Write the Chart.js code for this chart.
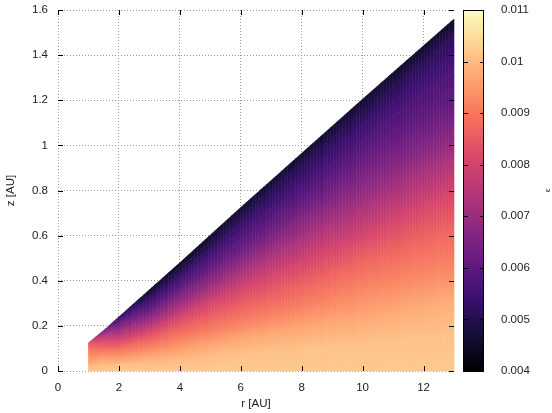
<!DOCTYPE html>
<html>
<head>
<meta charset="utf-8">
<script src="https://cdn.jsdelivr.net/npm/chart.js@4.4.1/dist/chart.umd.min.js"></script>
<style>
  html, body { margin: 0; padding: 0; background: #fff; }
  canvas { display: block; }
</style>
</head>
<body>
<canvas id="chart" width="552" height="413"></canvas>
<script>
// ── Axis ticks ────────────────────────────────────────────────────────────────
const rTicks  = [0, 2, 4, 6, 8, 10, 12];
const zTicks  = [0, 0.2, 0.4, 0.6, 0.8, 1, 1.2, 1.4, 1.6];
const cbTicks = [0.004, 0.005, 0.006, 0.007, 0.008, 0.009, 0.01, 0.011];
const cbMin = 0.004, cbMax = 0.011;

// ── Grid: radius of each column, top of the domain there, height fractions ───
const rNodes = [1, 1.5, 2, 3, 4, 6, 8, 10, 13];
const zTop   = [0.125, 0.18, 0.24, 0.36, 0.48, 0.725, 0.965, 1.205, 1.56];
const fNodes = [0, 0.1, 0.2, 0.3, 0.4, 0.5, 0.6, 0.7, 0.8, 0.85, 0.9, 0.95, 1];

// epsilon up each column, bottom to top
const eps_r1   = [0.0102, 0.0101, 0.0099, 0.0097, 0.0096, 0.0094, 0.0093, 0.0091, 0.0089, 0.0088, 0.0087, 0.0085, 0.0083];
const eps_r1_5 = [0.0102, 0.0101, 0.0099, 0.0096, 0.0093, 0.0090, 0.0086, 0.0083, 0.0079, 0.0076, 0.0072, 0.0068, 0.0063];
const eps_r2   = [0.0102, 0.0101, 0.0097, 0.0093, 0.0089, 0.0084, 0.0079, 0.0073, 0.0067, 0.0064, 0.0060, 0.0056, 0.0052];
const eps_r3   = [0.0102, 0.0100, 0.0096, 0.0091, 0.0086, 0.0079, 0.0072, 0.0065, 0.0058, 0.0055, 0.0052, 0.0048, 0.0045];
const eps_r4   = [0.0102, 0.0100, 0.0096, 0.0091, 0.0086, 0.0080, 0.0072, 0.0065, 0.0058, 0.0055, 0.0051, 0.0048, 0.0044];
const eps_r6   = [0.0102, 0.0101, 0.0097, 0.0091, 0.0086, 0.0080, 0.0073, 0.0065, 0.0059, 0.0056, 0.0053, 0.0049, 0.0046];
const eps_r8   = [0.0102, 0.0101, 0.0097, 0.0091, 0.0086, 0.0080, 0.0073, 0.0066, 0.0059, 0.0056, 0.0053, 0.0050, 0.0046];
const eps_r10  = [0.0102, 0.0101, 0.0097, 0.0092, 0.0087, 0.0080, 0.0073, 0.0066, 0.0060, 0.0057, 0.0054, 0.0050, 0.0046];
const eps_r13  = [0.0102, 0.0101, 0.0098, 0.0092, 0.0087, 0.0081, 0.0073, 0.0065, 0.0059, 0.0057, 0.0054, 0.0051, 0.0045];
const columns = [eps_r1, eps_r1_5, eps_r2, eps_r3, eps_r4, eps_r6, eps_r8, eps_r10, eps_r13];

// ── Colour map (magma) ────────────────────────────────────────────────────────
const magma = ["#000004", "#140e36", "#3b0f70", "#641a80", "#8c2981", "#b73779",
               "#de4968", "#f7705c", "#fe9f6d", "#fecf92", "#fcfdbf"];
const magmaRgb = magma.map(h => [1, 3, 5].map(i => parseInt(h.substr(i, 2), 16)));

function colorOf(v) {
  let t = (v - cbMin) / (cbMax - cbMin);
  t = Math.min(1, Math.max(0, t)) * (magmaRgb.length - 1);
  const i = Math.min(Math.floor(t), magmaRgb.length - 2), u = t - i;
  const a = magmaRgb[i], b = magmaRgb[i + 1];
  return `rgb(${a.map((c, k) => Math.round(c + (b[k] - c) * u)).join(",")})`;
}

const FONT = "'Liberation Sans', Arial, sans-serif";
const TXT  = "#222";
const lerp = (a, b, u) => a + (b - a) * u;

// ── Field: each grid cell shaded like pm3d interpolate ───────────────────────
const fieldPlugin = {
  id: "field",
  beforeDatasetsDraw(chart) {
    const { ctx, scales: { x, y } } = chart;
    ctx.save();
    for (let i = 0; i < rNodes.length - 1; i++) {
      const wPx = x.getPixelForValue(rNodes[i + 1]) - x.getPixelForValue(rNodes[i]);
      const steps = Math.max(1, Math.ceil(wPx / 3));
      for (let s = 0; s < steps; s++) {
        const u0 = s / steps, u1 = (s + 1) / steps, um = (u0 + u1) / 2;
        const r0 = lerp(rNodes[i], rNodes[i + 1], u0), r1 = lerp(rNodes[i], rNodes[i + 1], u1);
        const t0 = lerp(zTop[i], zTop[i + 1], u0),     t1 = lerp(zTop[i], zTop[i + 1], u1);
        const pt = (r, zt, f) => ({ x: x.getPixelForValue(r), y: y.getPixelForValue(f * zt) });

        for (let j = 0; j < fNodes.length - 1; j++) {
          const bl = pt(r0, t0, fNodes[j]),     br = pt(r1, t1, fNodes[j]);
          const tl = pt(r0, t0, fNodes[j + 1]), tr = pt(r1, t1, fNodes[j + 1]);
          const vb = lerp(columns[i][j], columns[i + 1][j], um);
          const vt = lerp(columns[i][j + 1], columns[i + 1][j + 1], um);

          // shade across the band, perpendicular to its edges
          let dx = (br.x - bl.x) + (tr.x - tl.x), dy = (br.y - bl.y) + (tr.y - tl.y);
          const len = Math.hypot(dx, dy); dx /= len; dy /= len;
          const nx = dy, ny = -dx;
          const bx = (bl.x + br.x) / 2, by = (bl.y + br.y) / 2;
          const h = ((tl.x + tr.x) / 2 - bx) * nx + ((tl.y + tr.y) / 2 - by) * ny;
          const g = ctx.createLinearGradient(bx, by, bx + nx * h, by + ny * h);
          g.addColorStop(0, colorOf(vb));
          g.addColorStop(1, colorOf(vt));

          ctx.beginPath();
          ctx.moveTo(bl.x, bl.y); ctx.lineTo(br.x, br.y);
          ctx.lineTo(tr.x, tr.y); ctx.lineTo(tl.x, tl.y);
          ctx.closePath();
          ctx.fillStyle = g; ctx.fill();
          ctx.strokeStyle = g; ctx.lineWidth = 0.6; ctx.stroke();
        }
      }
    }
    ctx.restore();
  }
};

// ── Tick marks, colour box and its label ──────────────────────────────────────
const framePlugin = {
  id: "frame",
  afterDraw(chart) {
    const { ctx, chartArea: a, scales: { x, y, cb } } = chart;
    const al = v => Math.round(v) + 0.5;
    ctx.save();
    ctx.strokeStyle = "#000";
    ctx.lineWidth = 1;
    ctx.beginPath();
    zTicks.forEach(v => {
      const py = al(y.getPixelForValue(v));
      ctx.moveTo(a.left, py);  ctx.lineTo(a.left + 5, py);
      ctx.moveTo(a.right, py); ctx.lineTo(a.right - 5, py);
    });
    rTicks.forEach(v => {
      const px = al(x.getPixelForValue(v));
      ctx.moveTo(px, a.top);    ctx.lineTo(px, a.top + 5);
      ctx.moveTo(px, a.bottom); ctx.lineTo(px, a.bottom - 5);
    });
    ctx.stroke();

    const top = cb.getPixelForValue(cbMax), bot = cb.getPixelForValue(cbMin);
    const left = a.right + 10, w = 20;
    const g = ctx.createLinearGradient(0, bot, 0, top);
    magma.forEach((c, k) => g.addColorStop(k / (magma.length - 1), c));
    ctx.fillStyle = g;
    ctx.fillRect(left, top, w, bot - top);
    ctx.strokeRect(al(left) - 1, al(top), w, Math.round(bot - top));

    ctx.beginPath();
    cbTicks.forEach(v => {
      const py = al(cb.getPixelForValue(v));
      ctx.moveTo(left, py);     ctx.lineTo(left + 4, py);
      ctx.moveTo(left + w, py); ctx.lineTo(left + w - 4, py);
    });
    ctx.stroke();

    ctx.translate(548, (top + bot) / 2);
    ctx.rotate(-Math.PI / 2);
    ctx.fillStyle = TXT;
    ctx.font = `8px ${FONT}`;
    ctx.textAlign = "center";
    ctx.textBaseline = "middle";
    ctx.fillText("ε", 0, 0);
    ctx.restore();
  }
};

const fmt = v => String(+Number(v).toFixed(4));
const gridOpts = { color: "#9a9a9a", lineWidth: 1, drawTicks: false };
const borderOpts = { display: false, dash: [1, 2] };
const tickFont = { family: FONT, size: 11.5 };
// keep edge labels from pushing the plot area inwards
const noPad = s => { s.paddingTop = 0; s.paddingBottom = 0; s.paddingLeft = 0; s.paddingRight = 0; };

new Chart(document.getElementById("chart"), {
  type: "scatter",
  data: { datasets: [{ data: [] }] },
  options: {
    responsive: false,
    animation: false,
    devicePixelRatio: 1,
    layout: { padding: { top: 10, left: 0, right: 0, bottom: 0 } },
    plugins: { legend: { display: false }, tooltip: { enabled: false } },
    scales: {
      x: {
        type: "linear", min: 0, max: 13,
        afterBuildTicks: s => { s.ticks = rTicks.map(v => ({ value: v })); },
        afterFit: s => { s.height = 42; noPad(s); },
        grid: gridOpts, border: borderOpts,
        ticks: { color: TXT, font: tickFont, padding: 10, maxRotation: 0, autoSkip: false, callback: fmt },
        title: { display: true, text: "r [AU]", color: TXT, font: tickFont, padding: { top: 4, bottom: 2 } }
      },
      y: {
        type: "linear", min: 0, max: 1.6,
        afterBuildTicks: s => { s.ticks = zTicks.map(v => ({ value: v })); },
        afterFit: s => { s.width = 58; noPad(s); },
        grid: gridOpts, border: borderOpts,
        ticks: { color: TXT, font: tickFont, padding: 10, autoSkip: false, callback: fmt },
        title: { display: true, text: "z [AU]", color: TXT, font: tickFont, padding: { top: 4, bottom: 2 } }
      },
      cb: {
        type: "linear", axis: "y", position: "right", min: cbMin, max: cbMax,
        afterBuildTicks: s => { s.ticks = cbTicks.map(v => ({ value: v })); },
        afterFit: s => { s.width = 98; noPad(s); },
        grid: { display: false }, border: { display: false },
        ticks: { color: TXT, font: tickFont, padding: 39, autoSkip: false, callback: fmt }
      }
    }
  },
  plugins: [fieldPlugin, framePlugin]
});
</script>
</body>
</html>
